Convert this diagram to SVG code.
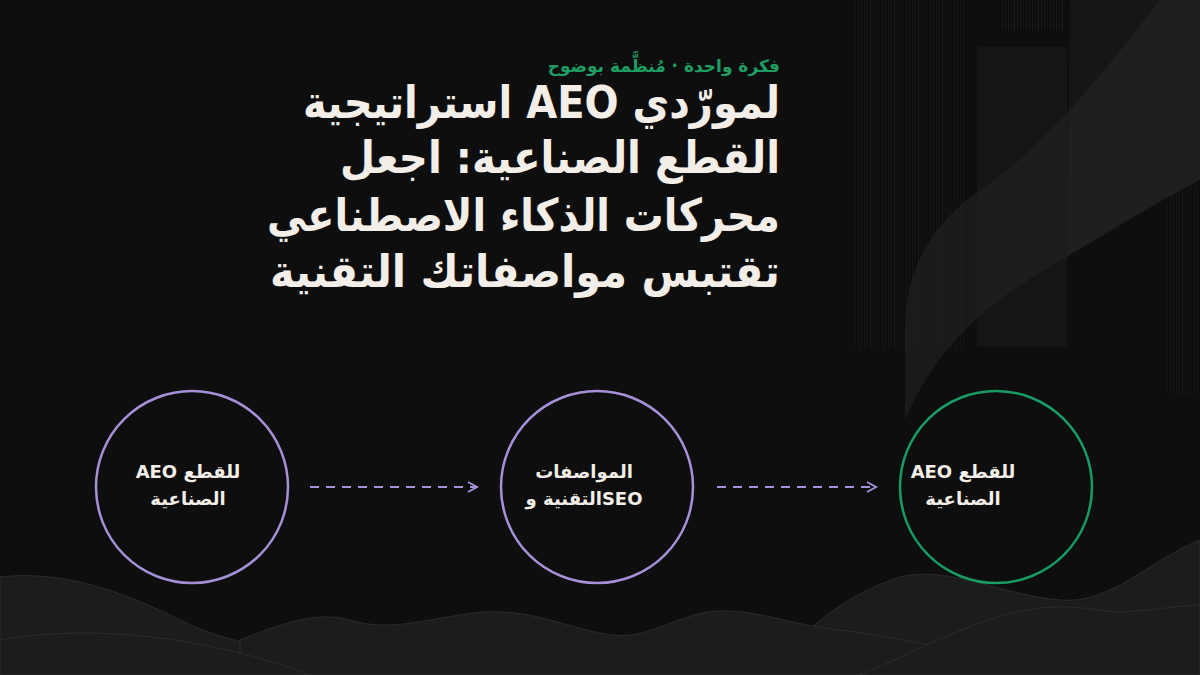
<svg xmlns="http://www.w3.org/2000/svg" width="1200" height="675" viewBox="0 0 1200 675">
  <defs>
    <style>
      .title { font-family: "DejaVu Sans", "Noto Sans", sans-serif; font-weight: bold; font-size: 45px; fill: #f3efe8; }
      .sub { font-family: "DejaVu Sans", "Noto Sans", sans-serif; font-weight: bold; font-size: 17px; fill: #1e9e63; }
      .lbl { font-family: "DejaVu Sans", "Noto Sans", sans-serif; font-weight: bold; font-size: 18px; fill: #f3efe8; }
      .ring { fill: none; stroke-width: 2.5; }
      .purple { stroke: #a691d8; }
      .green { stroke: #169c64; }
      .conn { stroke: #a691d8; stroke-width: 2; stroke-dasharray: 9 7; fill: none; }
      .hill { fill: #1c1c1c; stroke: #2c2c2c; stroke-width: 1; }
    </style>
    <marker id="arrow" viewBox="0 0 12 12" refX="10" refY="6" markerWidth="12" markerHeight="12" markerUnits="userSpaceOnUse" orient="auto">
      <path d="M1,1 L10,6 L1,11" fill="none" stroke="#a691d8" stroke-width="2"/>
    </marker>
    <pattern id="stripes" width="6" height="10" patternUnits="userSpaceOnUse">
      <rect x="0" y="0" width="1" height="10" fill="#2a2a2a" opacity="0.6"/>
      <rect x="3" y="0" width="1" height="10" fill="#222" opacity="0.5"/>
    </pattern>
  </defs>

  <rect width="1200" height="675" fill="#0e0e0e"/>

  <g id="background-decor">
    <rect x="855" y="0" width="110" height="350" fill="url(#stripes)" opacity="0.5"/>
    <rect x="1000" y="0" width="65" height="30" fill="url(#stripes)" opacity="0.7"/>
    <rect x="1165" y="185" width="35" height="210" fill="url(#stripes)" opacity="0.5"/>
    <rect x="977" y="47" width="90" height="300" fill="#151515"/>
    <path d="M1160,0 C1090,90 1040,150 980,190 C930,225 905,270 905,330 L905,420 C940,340 990,300 1070,255 C1130,220 1170,195 1200,180 L1200,0 Z" fill="#262626" opacity="0.5"/>
    <path d="M1070,0 L1200,0 L1200,180 C1150,205 1110,230 1067,257 Z" fill="#2a2a2a" opacity="0.3"/>
  </g>

  <g id="hills">
    <path class="hill" d="M760,675 C800,640 830,600 900,577 C950,565 1000,595 1060,600 C1110,605 1150,560 1200,540 L1200,675 Z"/>
    <path class="hill" d="M0,577 C60,570 120,590 180,620 C230,645 280,650 330,650 L330,675 L0,675 Z"/>
    <path class="hill" d="M240,640 C290,620 320,612 350,620 C390,632 420,620 474,613 C530,606 570,630 612,635 C650,640 680,612 719,611 C760,610 790,625 840,630 C880,635 900,640 930,645 L930,675 L240,675 Z"/>
    <path class="hill" d="M0,640 C60,630 110,632 160,638 C220,646 270,660 310,675 L0,675 Z"/>
    <path class="hill" d="M860,675 C920,650 980,615 1040,608 C1080,604 1100,612 1120,612 C1160,610 1180,605 1200,605 L1200,675 Z"/>
  </g>

  <g id="header">
    <text class="sub" x="780" y="72" direction="rtl">فكرة واحدة · مُنظَّمة بوضوح</text>
    <text class="title" x="780" y="118" direction="rtl" textLength="477" lengthAdjust="spacingAndGlyphs">لمورّدي AEO استراتيجية</text>
    <text class="title" x="780" y="173" direction="rtl" textLength="440" lengthAdjust="spacingAndGlyphs">القطع الصناعية: اجعل</text>
    <text class="title" x="780" y="231" direction="rtl" textLength="513" lengthAdjust="spacingAndGlyphs">محركات الذكاء الاصطناعي</text>
    <text class="title" x="780" y="287" direction="rtl" textLength="510" lengthAdjust="spacingAndGlyphs">تقتبس مواصفاتك التقنية</text>
  </g>

  <g id="connectors">
    <line class="conn" x1="310" y1="487" x2="477" y2="487" marker-end="url(#arrow)"/>
    <line class="conn" x1="717" y1="487" x2="876" y2="487" marker-end="url(#arrow)"/>
  </g>

  <g id="node-1">
    <circle class="ring purple" cx="192" cy="487" r="96"/>
    <text class="lbl" x="188" y="478" text-anchor="middle" direction="rtl">للقطع AEO</text>
    <text class="lbl" x="188" y="505" text-anchor="middle" direction="rtl">الصناعية</text>
  </g>

  <g id="node-2">
    <circle class="ring purple" cx="597" cy="487" r="96"/>
    <text class="lbl" x="584" y="478" text-anchor="middle" direction="rtl">المواصفات</text>
    <text class="lbl" x="584" y="505" text-anchor="middle" direction="rtl">SEOالتقنية و</text>
  </g>

  <g id="node-3">
    <circle class="ring green" cx="996" cy="487" r="96"/>
    <text class="lbl" x="963" y="478" text-anchor="middle" direction="rtl">للقطع AEO</text>
    <text class="lbl" x="963" y="505" text-anchor="middle" direction="rtl">الصناعية</text>
  </g>
</svg>
